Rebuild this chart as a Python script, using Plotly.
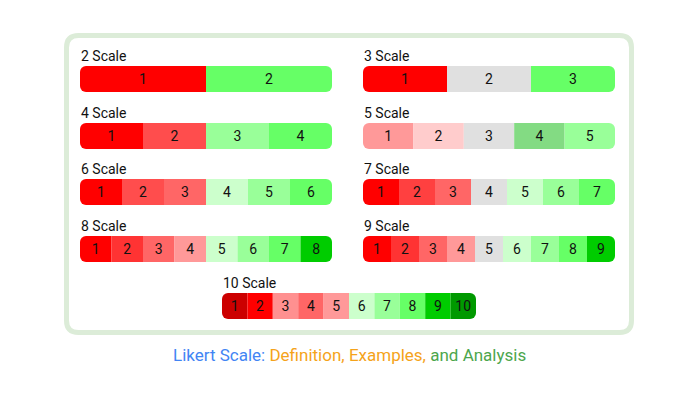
import plotly.graph_objects as go

W, H = 698, 400
PAGE_OFFSET = 8  # default body margin of the html page

# each scale: label, colours of its points (left to right)
scale_names = ["2 Scale", "3 Scale", "4 Scale", "5 Scale", "6 Scale",
               "7 Scale", "8 Scale", "9 Scale", "10 Scale"]
scale_colors = [
    ["#ff0000", "#66ff66"],
    ["#ff0000", "#e0e0e0", "#66ff66"],
    ["#ff0000", "#ff4d4d", "#99ff99", "#66ff66"],
    ["#ff9999", "#ffcccc", "#e0e0e0", "#83db83", "#99ff99"],
    ["#ff0000", "#ff4d4d", "#ff6666", "#ccffcc", "#99ff99", "#66ff66"],
    ["#ff0000", "#ff4040", "#ff6666", "#e0e0e0", "#ccffcc", "#99ff99", "#66ff66"],
    ["#ff0000", "#ff3333", "#ff6666", "#ff9999", "#ccffcc", "#99ff99", "#66ff66", "#00cc00"],
    ["#ff0000", "#ff3333", "#ff6666", "#ff9999", "#e0e0e0", "#ccffcc", "#99ff99", "#66ff66", "#00cc00"],
    ["#cc0000", "#ff0000", "#ff9090", "#ff6666", "#ff9999", "#ccffcc", "#99ff99", "#66ff66", "#00cc00", "#009900"],
]

# pixel boxes of each bar on screen (left, right, top, bottom)
bar_boxes = [
    (80, 332, 66, 92), (363, 615, 66, 92),
    (80, 332, 123, 149), (363, 615, 123, 149),
    (80, 332, 179, 205), (363, 615, 179, 205),
    (80, 332, 236, 262), (363, 615, 236, 262),
    (222, 476, 293, 319),
]


def px(x):
    return (x - PAGE_OFFSET) / W


def py(y):
    return 1 - (y - PAGE_OFFSET) / H


fig = go.Figure()
annotations = []
num_font = dict(family="Roboto", size=14, color="#111111")

for k, (name, colors) in enumerate(zip(scale_names, scale_colors)):
    n = len(colors)
    x0, x1, top, bottom = bar_boxes[k]
    ax = "" if k == 0 else str(k + 1)

    # relative stack: point 1 goes left of zero, the rest stack to the right,
    # so only the two outer ends get rounded corners
    for i, c in enumerate(colors):
        fig.add_trace(go.Bar(
            y=[0], x=[-1 if i == 0 else 1], orientation="h", width=1,
            marker=dict(color=c, line_width=0, cornerradius=6),
            text=[str(i + 1)], textposition="inside", insidetextanchor="middle",
            textangle=0, constraintext="none", textfont=num_font,
            xaxis="x" + ax, yaxis="y" + ax, hoverinfo="skip", showlegend=False,
        ))

    axis_common = dict(visible=False, fixedrange=True)
    fig.update_layout(**{
        "xaxis" + ax: dict(domain=[px(x0), px(x1)], range=[-1, n - 1], anchor="y" + ax, **axis_common),
        "yaxis" + ax: dict(domain=[py(bottom), py(top)], range=[-0.5, 0.5], anchor="x" + ax, **axis_common),
    })

    annotations.append(dict(
        text=name, x=px(x0 - 1), y=py(top), xref="paper", yref="paper",
        xanchor="left", yanchor="bottom", showarrow=False,
        font=dict(family="Roboto", size=14, color="#111111"),
    ))

annotations.append(dict(
    text="<span style='color:#4285f4'>Likert Scale:</span> "
         "<span style='color:#f5a31a'>Definition, Examples,</span> "
         "<span style='color:#4ca64c'>and Analysis</span>",
    x=px(349), y=py(355), xref="paper", yref="paper",
    xanchor="center", yanchor="middle", showarrow=False,
    font=dict(family="Roboto", size=17),
))

# card outline
cx0, cx1, cy0, cy1, r = 66.5, 631.5, 35.5, 332.5, 12
path = (f"M {px(cx0 + r)} {py(cy0)} L {px(cx1 - r)} {py(cy0)} "
        f"Q {px(cx1)} {py(cy0)} {px(cx1)} {py(cy0 + r)} "
        f"L {px(cx1)} {py(cy1 - r)} Q {px(cx1)} {py(cy1)} {px(cx1 - r)} {py(cy1)} "
        f"L {px(cx0 + r)} {py(cy1)} Q {px(cx0)} {py(cy1)} {px(cx0)} {py(cy1 - r)} "
        f"L {px(cx0)} {py(cy0 + r)} Q {px(cx0)} {py(cy0)} {px(cx0 + r)} {py(cy0)} Z")

fig.update_layout(
    width=W, height=H,
    margin=dict(l=0, r=0, t=0, b=0),
    paper_bgcolor="white", plot_bgcolor="rgba(0,0,0,0)",
    barmode="relative",
    annotations=annotations,
    shapes=[dict(type="path", path=path, xref="paper", yref="paper",
                 line=dict(color="#dcecd8", width=5), fillcolor="white", layer="below")],
)

fig.write_html("out.html")
